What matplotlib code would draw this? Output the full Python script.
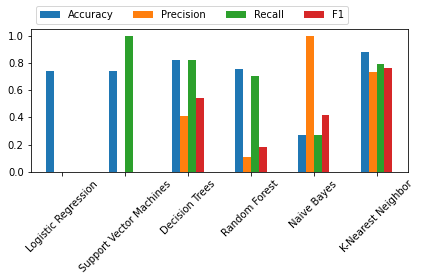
import matplotlib
matplotlib.use("Agg")
import matplotlib.pyplot as plt
import numpy as np

models = ["Logistic Regression", "Support Vector Machines", "Decision Trees",
          "Random Forest", "Naive Bayes", "K-Nearest Neighbor"]
accuracy = [0.744, 0.744, 0.825, 0.759, 0.271, 0.884]
precision = [0.0, 0.0, 0.411, 0.111, 1.0, 0.736]
recall = [0.0, 1.0, 0.825, 0.707, 0.271, 0.796]
f1 = [0.0, 0.0, 0.544, 0.185, 0.419, 0.766]
series_names = ["Accuracy", "Precision", "Recall", "F1"]

series = [accuracy, precision, recall, f1]
colors = ["#1f77b4", "#ff7f0e", "#2ca02c", "#d62728"]

dpi = 72
fig = plt.figure(figsize=(421 / dpi, 280 / dpi), dpi=dpi)
ax = fig.add_axes([30.7 / 421, 1 - 171.7 / 280, (408 - 30.7) / 421, (171.7 - 29.3) / 280])

x = np.arange(len(models))
w = 0.125
for k, (vals, name, c) in enumerate(zip(series, series_names, colors)):
    ax.bar(x - 0.1875 + k * w, vals, width=w, color=c, label=name)

ax.set_xlim(-0.5, len(models) - 0.5)
ax.set_ylim(0, 1.05)
ax.set_xticks(x)
ax.set_xticklabels(models, rotation=45, ha="center")
ax.legend(loc="lower left", bbox_to_anchor=(0, 1), ncol=4)

fig.savefig("out.png", dpi=dpi)
